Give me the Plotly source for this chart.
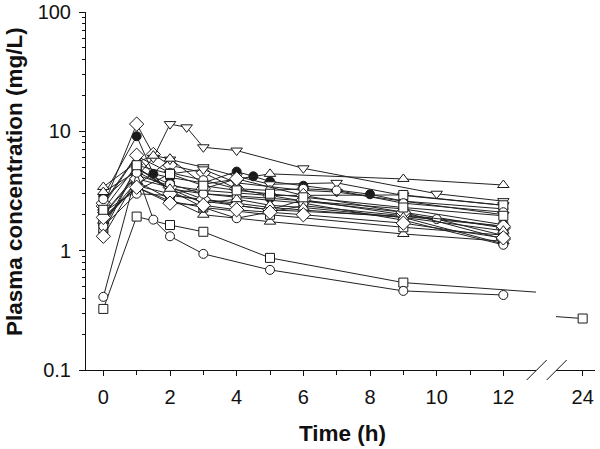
import plotly.graph_objects as go

# sampling times (h) and plasma concentrations (mg/L), one pair per subject
t01 = [0, 1, 1.5, 2, 3, 4, 5, 6, 9, 12]
c01 = [2.36, 11.5, 6.4, 5.2, 4.5, 3.3, 2.9, 2.6, 2.1, 1.55]
t02 = [0, 1, 1.5, 2, 3, 4, 4.5, 5, 6, 8, 9, 12]
c02 = [2.86, 9.1, 4.4, 4.1, 3.7, 4.6, 4.2, 3.8, 3.5, 2.97, 2.6, 2.24]
t03 = [0, 1, 2, 3, 5, 9, 12]
c03 = [1.43, 5.0, 3.3, 3.0, 2.75, 2.24, 1.65]
t04 = [0, 1, 1.5, 2, 2.5, 3, 4, 6, 10, 12]
c04 = [2.0, 4.2, 6.0, 11.5, 10.8, 7.35, 6.9, 4.9, 3.0, 2.6]
t05 = [0, 1, 2, 3, 4, 5, 7, 9, 12]
c05 = [1.8, 3.5, 5.8, 5.0, 4.2, 3.6, 3.7, 2.9, 2.4]
t06 = [0, 1, 2, 3, 4, 6, 7, 12]
c06 = [2.1, 3.2, 4.4, 4.8, 3.7, 3.2, 3.1, 2.0]
t07 = [0, 1, 1.5, 2, 3, 5, 9, 12]
c07 = [3.42, 5.5, 6.25, 5.9, 3.6, 4.4, 3.99, 3.55]
t08 = [0, 1, 2, 3, 5, 9, 12]
c08 = [1.78, 3.8, 2.7, 2.0, 1.75, 1.38, 1.2]
t09 = [0, 1, 2, 3, 5, 9, 12]
c09 = [2.03, 4.3, 3.5, 3.2, 2.9, 2.93, 2.4]
t10 = [0, 1, 2, 3, 5, 9, 12]
c10 = [1.78, 3.5, 3.0, 2.6, 2.2, 1.94, 1.6]
t11 = [0, 1, 2, 3, 5, 9, 12]
c11 = [1.55, 5.0, 3.2, 2.3, 2.0, 1.57, 1.35]
t12 = [0, 1, 2, 3, 4, 6, 10, 12]
c12 = [1.9, 3.4, 2.6, 2.3, 1.87, 2.38, 1.84, 1.34]
t13 = [0, 1, 2, 3, 4, 5, 6, 7, 9, 12]
c13 = [2.4, 6.2, 4.5, 3.9, 3.3, 3.2, 3.3, 3.2, 2.5, 2.1]
t14 = [0, 1, 2, 3, 4, 5, 6, 9, 12]
c14 = [1.6, 3.0, 2.9, 2.7, 2.5, 2.3, 2.2, 1.9, 1.14]
t15 = [0, 1, 2, 3, 4, 5, 6, 9, 12]
c15 = [1.32, 4.0, 3.4, 2.7, 2.4, 2.2, 2.67, 2.0, 1.6]
t16 = [0, 1, 2, 3, 4, 6, 9, 12]
c16 = [2.5, 6.3, 3.0, 3.3, 4.0, 2.9, 2.1, 1.25]
t17 = [0, 1, 2, 3, 4, 6, 9, 12]
c17 = [2.7, 4.8, 3.6, 3.0, 2.8, 2.5, 1.8, 1.12]
t18 = [0, 1, 2, 3, 4, 5, 6, 9, 12]
c18 = [3.1, 4.6, 3.3, 2.5, 2.7, 2.4, 2.3, 1.9, 1.47]
t19 = [0, 1, 2, 3, 5, 9, 24]
c19 = [0.325, 1.93, 1.64, 1.44, 0.87, 0.54, 0.27]
t20 = [0, 1, 1.5, 2, 3, 5, 9, 12]
c20 = [0.41, 4.5, 1.82, 1.32, 0.94, 0.69, 0.46, 0.425]
t21 = [0, 1, 2, 3, 4, 5, 6, 9, 12]
c21 = [1.9, 3.4, 2.5, 2.4, 2.2, 2.1, 2.0, 1.7, 1.28]
t22 = [0, 1, 2, 3, 4, 5, 6, 9, 12]
c22 = [2.2, 5.2, 4.4, 3.5, 3.2, 3.0, 2.8, 2.3, 1.96]

subjects = [
    (t01, c01, 'diamond', False), (t02, c02, 'circle', True),
    (t03, c03, 'circle', True), (t04, c04, 'triangle-down', False),
    (t05, c05, 'triangle-down', False), (t06, c06, 'triangle-down', False),
    (t07, c07, 'triangle-up', False), (t08, c08, 'triangle-up', False),
    (t09, c09, 'square', False), (t10, c10, 'square', False),
    (t11, c11, 'square', False), (t12, c12, 'circle', False),
    (t13, c13, 'circle', False), (t14, c14, 'circle', False),
    (t15, c15, 'diamond', False), (t16, c16, 'diamond', False),
    (t17, c17, 'circle', False), (t18, c18, 'triangle-up', False),
    (t19, c19, 'square', False), (t20, c20, 'circle', False),
    (t21, c21, 'diamond', False), (t22, c22, 'square', False),
]

x_ticks = [0, 2, 4, 6, 8, 10, 12]
x_minor = [1, 3, 5, 7, 9, 11]
y_ticks = [0.1, 1, 10, 100]
y_ticktext = ['0.1', '1', '10', '100']

sizes = {'circle': 9, 'square': 9, 'diamond': 11, 'triangle-up': 10, 'triangle-down': 10}

fig = go.Figure()

for t, c, sym, filled in subjects:
    mk = dict(symbol=sym, size=sizes[sym], color='#1a1a1a' if filled else 'white',
              line=dict(color='#1a1a1a', width=1))
    # left panel: 0-12 h
    fig.add_trace(go.Scatter(x=t, y=c, mode='lines+markers', xaxis='x', yaxis='y',
                             line=dict(color='#222222', width=1), marker=mk,
                             showlegend=False))
    # right panel after the axis break (24 h)
    if max(t) > 12:
        fig.add_trace(go.Scatter(x=t, y=c, mode='lines+markers', xaxis='x2', yaxis='y',
                                 line=dict(color='#222222', width=1), marker=mk,
                                 showlegend=False))

font_ticks = dict(family='Arial, Liberation Sans, sans-serif', size=20, color='#111111')
font_title = dict(family='Arial, Liberation Sans, sans-serif', size=22.5, color='#111111')

fig.update_layout(
    width=600, height=449,
    margin=dict(l=86, r=5, t=12, b=79),
    paper_bgcolor='white', plot_bgcolor='white',
    xaxis=dict(domain=[0, 450 / 509], range=[-0.52, 12.98], showline=True,
               linecolor='#111111', linewidth=1, showgrid=False, zeroline=False,
               automargin=False,
               tickmode='array', tickvals=x_ticks, ticks='outside', ticklen=5,
               tickcolor='#111111', tickfont=font_ticks, ticklabelstandoff=4,
               minor=dict(tickmode='array', tickvals=x_minor, ticks='outside',
                          ticklen=4, tickcolor='#111111', showgrid=False)),
    xaxis2=dict(domain=[470 / 509, 1], range=[23.2, 24.37], anchor='y', showline=True,
                linecolor='#111111', linewidth=1, showgrid=False, zeroline=False,
                automargin=False, ticklabeloverflow='allow',
                tickmode='array', tickvals=[24], ticks='outside', ticklen=5,
                tickcolor='#111111', tickfont=font_ticks, ticklabelstandoff=4),
    yaxis=dict(type='log', range=[-1, 2], showline=True, linecolor='#111111',
               linewidth=1, showgrid=False, zeroline=False, automargin=False,
               ticklabeloverflow='allow',
               tickmode='array', tickvals=y_ticks, ticktext=y_ticktext,
               ticks='outside', ticklen=6, tickcolor='#111111', tickfont=font_ticks,
               ticklabelstandoff=4,
               minor=dict(tickmode='array',
                          tickvals=[m * d for d in (0.1, 1, 10) for m in range(2, 10)],
                          ticks='outside', ticklen=3, tickcolor='#111111',
                          showgrid=False)),
    annotations=[
        dict(text='<b>Time (h)</b>', xref='paper', yref='paper',
             x=(342 - 86) / 509, y=(370 - 433) / 358, xanchor='center', yanchor='middle',
             showarrow=False, font=font_title),
        dict(text='<b>Plasma concentration (mg/L)</b>', xref='paper', yref='paper',
             x=(14 - 86) / 509, y=(370 - 182) / 358, xanchor='center', yanchor='middle',
             textangle=-90, showarrow=False, font=font_title),
    ],
    shapes=[
        # axis break marks
        dict(type='line', xref='paper', yref='paper',
             x0=(526.7 - 86) / 509, y0=-10 / 358, x1=(546.7 - 86) / 509, y1=10 / 358,
             line=dict(color='#111111', width=1)),
        dict(type='line', xref='paper', yref='paper',
             x0=(546.7 - 86) / 509, y0=-10 / 358, x1=(566.7 - 86) / 509, y1=10 / 358,
             line=dict(color='#111111', width=1)),
    ],
)

# drop the default 8px body margin so the figure fills the window
fig.write_html("out.html", config={'displayModeBar': False},
               post_script="document.body.style.margin = '0';")
